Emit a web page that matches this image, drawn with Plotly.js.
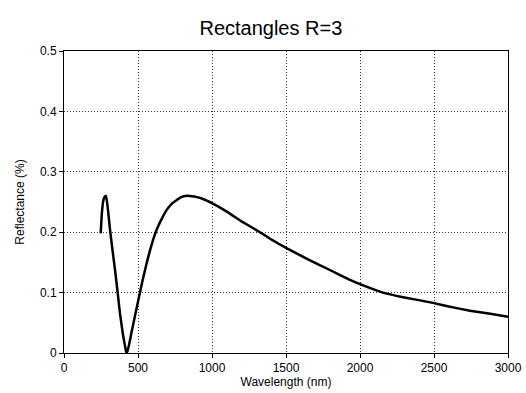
<!DOCTYPE html>
<html>
<head>
<meta charset="utf-8">
<script src="https://cdn.plot.ly/plotly-3.0.1.min.js"></script>
<style>html,body{margin:0;padding:0;background:#fff;}#chart{width:526px;height:393px;}</style>
</head>
<body>
<div id="chart"></div>
<script>
var wavelength = [248, 256, 266, 276, 284, 295, 311, 328, 345, 362, 378, 400, 418, 423, 430, 440, 457, 480, 507, 527, 547, 565, 581, 603, 626, 660, 694, 728, 761, 790, 818, 850, 880, 940, 1000, 1100, 1200, 1324, 1400, 1500, 1642, 1800, 1932, 2000, 2155, 2300, 2493, 2600, 2743, 2880, 3000];
var reflectance = [0.198, 0.232, 0.253, 0.259, 0.26, 0.242, 0.204, 0.17, 0.137, 0.101, 0.066, 0.028, 0.004, 0.0, 0.004, 0.014, 0.035, 0.062, 0.093, 0.116, 0.137, 0.155, 0.17, 0.188, 0.204, 0.222, 0.237, 0.247, 0.253, 0.258, 0.26, 0.26, 0.259, 0.255, 0.248, 0.234, 0.218, 0.2, 0.188, 0.174, 0.156, 0.137, 0.121, 0.114, 0.1, 0.092, 0.083, 0.077, 0.07, 0.065, 0.06];
var xTicks = [0, 500, 1000, 1500, 2000, 2500, 3000];
var yTicks = [0, 0.1, 0.2, 0.3, 0.4, 0.5];
var yTickText = ["0", "0.1", "0.2", "0.3", "0.4", "0.5"];

var trace = {
  x: wavelength, y: reflectance, type: 'scatter', mode: 'lines',
  line: {color: '#000', width: 2.5, shape: 'spline', smoothing: 0.3},
  hoverinfo: 'none'
};
var fam = '"Liberation Sans", Arial, sans-serif';
var layout = {
  width: 526, height: 393,
  margin: {l: 64, r: 18, t: 51, b: 40},
  paper_bgcolor: '#fff', plot_bgcolor: '#fff',
  showlegend: false,
  font: {family: fam, color: '#000', size: 12},
  title: {text: 'Rectangles R=3', font: {family: fam, size: 20, color: '#000'}, x: 0.515, xref: 'container', xanchor: 'center', y: 0.93, yref: 'container', yanchor: 'middle'},
  xaxis: {
    range: [0, 3000], tickvals: xTicks, ticktext: xTicks.map(String),
    showline: true, linecolor: '#000', linewidth: 1, mirror: true,
    ticks: 'outside', ticklen: 4, tickcolor: '#000',
    showgrid: true, gridcolor: '#333', griddash: '1px,2px', gridwidth: 1,
    zeroline: false,
    tickfont: {family: fam, size: 12, color: '#000'},
    title: {text: 'Wavelength (nm)', font: {family: fam, size: 12, color: '#000'}, standoff: 2}
  },
  yaxis: {
    range: [0, 0.5], tickvals: yTicks, ticktext: yTickText,
    showline: true, linecolor: '#000', linewidth: 1, mirror: true,
    ticks: 'outside', ticklen: 4, tickcolor: '#000',
    showgrid: true, gridcolor: '#333', griddash: '1px,2px', gridwidth: 1,
    zeroline: false,
    tickfont: {family: fam, size: 12, color: '#000'},
    title: {text: 'Reflectance (%)', font: {family: fam, size: 12, color: '#000'}, standoff: 12}
  }
};
Plotly.newPlot('chart', [trace], layout, {staticPlot: true, displayModeBar: false});
</script>
</body>
</html>
